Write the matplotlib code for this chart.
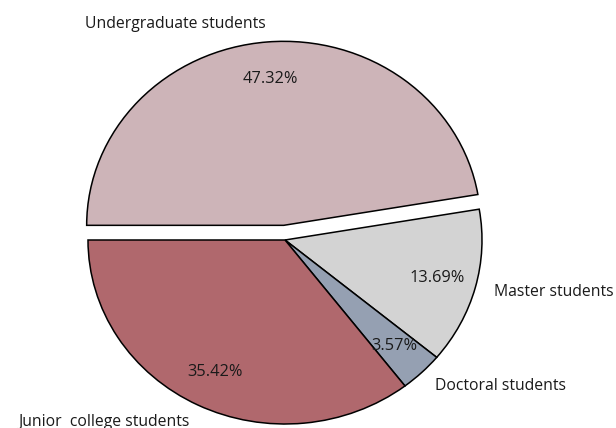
import matplotlib
matplotlib.use("Agg")
import matplotlib.pyplot as plt

plt.rcParams['font.family'] = ['Open Sans', 'DejaVu Sans']

# Student categories and their shares (%)
labels = ["Undergraduate students", "Master students", "Doctoral students", "Junior  college students"]
shares = [47.32, 13.69, 3.57, 35.42]
colors = ["#CDB4B8", "#D3D3D3", "#95A0B2", "#B0686D"]
explode = [0.08, 0, 0, 0]

fig = plt.figure(figsize=(6.16, 4.28), dpi=100)
ax = fig.add_axes([0, 0, 1, 1])

wedges, texts, pcts = ax.pie(shares, labels=labels, colors=colors, explode=explode,
                             autopct='%.2f%%', pctdistance=0.8, labeldistance=1.1,
                             startangle=180, counterclock=False,
                             wedgeprops=dict(edgecolor='black', linewidth=1.1),
                             textprops=dict(fontsize=11.3, color='#1a1a1a'))
for t in pcts:
    t.set_fontsize(11.8)

# stretched pie: wider than tall, like the original picture
ax.set_aspect('auto')
ax.set_xlim(-285 / 197, (616 - 285) / 197)
ax.set_ylim(-188 / 184, 240 / 184)
ax.axis('off')

fig.savefig("out.png", dpi=100)
